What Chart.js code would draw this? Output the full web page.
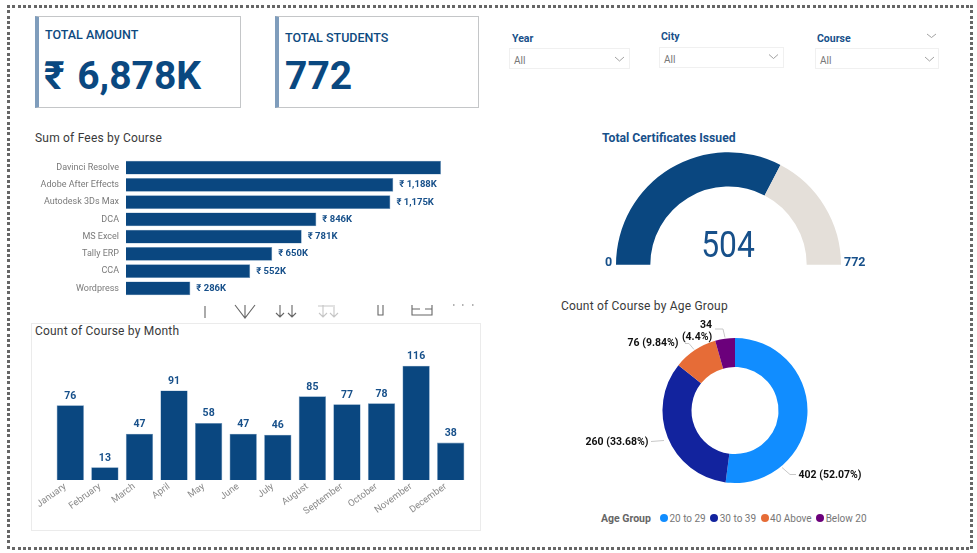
<!DOCTYPE html>
<html>
<head>
<meta charset="utf-8">
<title>Course dashboard</title>
<script src="https://cdn.jsdelivr.net/npm/chart.js@4"></script>
<style>
  html, body { margin: 0; padding: 0; background: #fff; }
  body { width: 977px; height: 553px; position: relative; overflow: hidden; font-family: Roboto, "Noto Sans", sans-serif; }
  .abs { position: absolute; white-space: nowrap; }
  canvas { position: absolute; }
  .edge { position: absolute; background-color: #6e6e6e; }
  .edge.h { height: 3px; left: 7px; width: 965px; background: repeating-linear-gradient(90deg, #666 0 3px, #fff 3px 5.3px); }
  .edge.v { width: 3px; top: 5px; height: 545px; background: repeating-linear-gradient(180deg, #666 0 3px, #fff 3px 5.3px); }
  .card { position: absolute; box-sizing: border-box; background: #fff; border: 1px solid #c4c6c8; border-left: 4px solid #7f9dbc; }
  .cardTitle { color: #0d4a80; font-weight: 500; font-size: 12.5px; }
  .cardValue { color: #0a4880; font-weight: 700; font-size: 39px; word-spacing: 3px; }
  .slicerName { color: #17508a; font-weight: 700; font-size: 10.5px; }
  .slicer { position: absolute; box-sizing: border-box; border: 1px solid #f0f0f0; color: #777; font-size: 10px; padding: 6px 0 0 4px; height: 21px; }
  .title { color: #3a3a3a; font-size: 12px; letter-spacing: 0.2px; }
  .panel { position: absolute; left: 31px; top: 323px; width: 450px; height: 208px; box-sizing: border-box; border: 1px solid #ebebeb; }
  #legend { position: absolute; left: 601px; top: 511px; height: 14px; font-size: 10px; color: #777; display: flex; align-items: center; }
  #legend b { color: #666; font-size: 10.5px; margin-right: 9px; }
  #legend i { display: inline-block; width: 8px; height: 8px; border-radius: 50%; margin-right: 1.5px; }
  #legend span { margin-right: 4.5px; }
</style>
</head>
<body>
<div class="edge h" style="top:5px"></div>
<div class="edge h" style="top:547px"></div>
<div class="edge v" style="left:7px"></div>
<div class="edge v" style="left:970px"></div>

<div class="card" style="left:35px;top:16px;width:206px;height:92px"></div>
<div class="abs cardTitle" style="left:45px;top:27px">TOTAL AMOUNT</div>
<div class="abs cardValue" style="left:44px;top:53px">₹ 6,878K</div>
<div class="card" style="left:275px;top:16px;width:204px;height:92px"></div>
<div class="abs cardTitle" style="left:285px;top:30px">TOTAL STUDENTS</div>
<div class="abs cardValue" style="left:285px;top:53px">772</div>

<div class="abs slicerName" style="left:512px;top:32px">Year</div>
<div class="slicer" style="left:509px;top:48px;width:121px">All</div>
<div class="abs slicerName" style="left:661px;top:30px">City</div>
<div class="slicer" style="left:659px;top:47px;width:125px">All</div>
<div class="abs slicerName" style="left:817px;top:32px">Course</div>
<div class="slicer" style="left:815px;top:48px;width:124px">All</div>

<div class="abs title" style="left:35px;top:131px">Sum of Fees by Course</div>
<canvas id="feesChart" style="left:30px;top:159px"></canvas>

<div class="panel"></div>
<div class="abs title" style="left:35px;top:324px">Count of Course by Month</div>
<canvas id="monthChart" style="left:32px;top:340px"></canvas>

<div class="abs" style="left:602px;top:131px;color:#17508a;font-weight:700;font-size:12.2px">Total Certificates Issued</div>
<canvas id="gaugeChart" style="left:615px;top:152px"></canvas>
<div class="abs" id="gaugeValue" style="left:728px;top:223px;transform:translateX(-50%) scaleX(0.86);color:#17508a;font-size:37px">504</div>
<div class="abs" id="gaugeMin" style="left:605px;top:254px;color:#17508a;font-weight:700;font-size:12.5px">0</div>
<div class="abs" id="gaugeMax" style="left:844px;top:254px;color:#17508a;font-weight:700;font-size:12.5px">772</div>

<div class="abs title" style="left:561px;top:299px">Count of Course by Age Group</div>
<canvas id="ageChart" style="left:575px;top:320px"></canvas>
<div id="legend"></div>

<!-- chevrons and the clipped toolbar icons that sit over the report -->
<svg class="abs" style="left:0;top:0" width="977" height="553" fill="none" stroke="#8a8a8a" stroke-width="0.8">
  <path d="M615 57l4.500 4 4.500-4M769 54.500l4.500 4 4.500-4M925 57l4.500 4 4.500-4M927 34l4.500 3.500 4.500-3.500"/>
  <g stroke="#666" stroke-width="1.100">
    <path d="M205 306v12M235 305l10 13 10-13M245 305v13"/>
    <path d="M280 305v12M276 313l4 4 4-4M292 305v12M288 313l4 4 4-4"/>
    <path d="M378 305v10h5v-10M412 305v10h20v-10M412 309h8M425 309h7"/>
    <path d="M453 305h1.500M462 305h1.500M472 305h1.500"/>
  </g>
  <g stroke="#c6c6c6" stroke-width="1.100">
    <path d="M323 305v12M319 313l4 4 4-4M334 307v10M330 313l4 4 4-4M318 306h17"/>
  </g>
</svg>

<script>
// chart values
const courses = ['Davinci Resolve', 'Adobe After Effects', 'Autodesk 3Ds Max', 'DCA', 'MS Excel', 'Tally ERP', 'CCA', 'Wordpress'];
const feesK = [1400, 1188, 1175, 846, 781, 650, 552, 286];
const months = ['January', 'February', 'March', 'April', 'May', 'June', 'July', 'August', 'September', 'October', 'November', 'December'];
const monthCounts = [76, 13, 47, 91, 58, 47, 46, 85, 77, 78, 116, 38];
const ageGroups = ['20 to 29', '30 to 39', '40 Above', 'Below 20'];
const ageCounts = [402, 260, 76, 34];
const ageColors = ['#118DFF', '#12239E', '#E66C37', '#6B007B'];
const gaugeIssued = 504;
const gaugeTotal = 772;

const NAVY = '#0A4780';
const EDGE = '#6f97bd';

Chart.defaults.animation = false;
Chart.defaults.responsive = false;
Chart.defaults.font.family = 'Roboto, "Noto Sans", sans-serif';

function sizeCanvas(id, w, h) {
    const canvas = document.getElementById(id);
    canvas.width = w;
    canvas.height = h;
    canvas.style.width = w + 'px';
    canvas.style.height = h + 'px';
    return canvas;
}

// data labels just outside the bar ends
const feeLabels = {
    id: 'feeLabels',
    afterDatasetsDraw(chart) {
        const ctx = chart.ctx;
        ctx.save();
        ctx.font = '700 9.5px Roboto, "Noto Sans", sans-serif';
        ctx.fillStyle = '#17508a';
        ctx.textBaseline = 'middle';
        chart.getDatasetMeta(0).data.forEach((bar, i) => {
            // the longest bar has no room for its label in the report
            if (feesK[i] === Math.max(...feesK)) return;
            ctx.fillText('₹ ' + feesK[i].toLocaleString('en-US') + 'K', bar.x + 6, bar.y);
        });
        ctx.restore();
    }
};

const monthLabels = {
    id: 'monthLabels',
    afterDatasetsDraw(chart) {
        const ctx = chart.ctx;
        ctx.save();
        ctx.font = '700 10.5px Roboto, "Noto Sans", sans-serif';
        ctx.fillStyle = '#17508a';
        ctx.textAlign = 'center';
        ctx.textBaseline = 'bottom';
        chart.getDatasetMeta(0).data.forEach((bar, i) => {
            ctx.fillText(monthCounts[i], bar.x, bar.y - 4);
        });
        ctx.restore();
    }
};

// outside labels with leader lines, offsets are from the ring centre
const ageCallouts = [
    { lines: [[95, 64.500]], path: [[47, 57], [55, 64], [61, 64]] },
    { lines: [[-118, 32]], path: [[-71, 30], [-84, 31]] },
    { lines: [[-82, -67]], path: [[-41, -61], [-46, -67], [-50, -67]] },
    { lines: [[-29, -85], [-38, -73]], path: [[-10, -73], [-12, -81.500], [-20, -81.500]] }
];

const ageLabels = {
    id: 'ageLabels',
    afterDatasetsDraw(chart) {
        const ctx = chart.ctx;
        const arc = chart.getDatasetMeta(0).data[0];
        const total = ageCounts.reduce((a, b) => a + b, 0);
        ctx.save();
        ctx.font = '700 10.5px Roboto, "Noto Sans", sans-serif';
        ctx.fillStyle = '#111';
        ctx.strokeStyle = '#c8c8c8';
        ctx.lineWidth = 1;
        ctx.textAlign = 'center';
        ctx.textBaseline = 'middle';
        ageCallouts.forEach((c, i) => {
            const pct = Number((ageCounts[i] / total * 100).toFixed(2));
            const texts = c.lines.length > 1
                ? [String(ageCounts[i]), '(' + pct + '%)']
                : [ageCounts[i] + ' (' + pct + '%)'];
            ctx.beginPath();
            c.path.forEach((p, j) => {
                if (j === 0) ctx.moveTo(arc.x + p[0], arc.y + p[1]);
                else ctx.lineTo(arc.x + p[0], arc.y + p[1]);
            });
            ctx.stroke();
            texts.forEach((t, j) => ctx.fillText(t, arc.x + c.lines[j][0], arc.y + c.lines[j][1]));
        });
        ctx.restore();
    }
};

// Sum of Fees by Course
new Chart(sizeCanvas('feesChart', 460, 138), {
    type: 'bar',
    data: {
        labels: courses,
        datasets: [{
            data: feesK,
            backgroundColor: NAVY,
            borderColor: EDGE,
            borderWidth: 0.6,
            categoryPercentage: 1,
            barPercentage: 0.8
        }]
    },
    options: {
        indexAxis: 'y',
        layout: { padding: { right: 49 } },
        plugins: { legend: { display: false }, tooltip: { enabled: false } },
        scales: {
            x: { display: false, min: 0, max: 1400 },
            y: {
                afterFit(axis) {
                    axis.width = 96;
                    axis.paddingTop = 0;
                    axis.paddingBottom = 0;
                },
                border: { display: false },
                grid: { display: false, drawTicks: false },
                ticks: { color: '#7a7a7a', font: { size: 9 }, padding: 7 }
            }
        }
    },
    plugins: [feeLabels]
});

// Count of Course by Month
new Chart(sizeCanvas('monthChart', 440, 190), {
    type: 'bar',
    data: {
        labels: months,
        datasets: [{
            data: monthCounts,
            backgroundColor: NAVY,
            borderColor: EDGE,
            borderWidth: 0.6,
            categoryPercentage: 1,
            barPercentage: 0.79
        }]
    },
    options: {
        layout: { padding: { left: 21, right: 4, top: 10 } },
        plugins: { legend: { display: false }, tooltip: { enabled: false } },
        scales: {
            y: { display: false, min: 0, max: 132 },
            x: {
                afterFit(axis) { axis.height = 50; },
                border: { display: false },
                grid: { display: false },
                ticks: { color: '#8a8a8a', font: { size: 9.5 }, minRotation: 36, maxRotation: 36, padding: -7, labelOffset: -5, autoSkip: false }
            }
        }
    },
    plugins: [monthLabels]
});

// Total Certificates Issued
new Chart(sizeCanvas('gaugeChart', 227, 113), {
    type: 'doughnut',
    data: {
        labels: ['Issued', 'Remaining'],
        datasets: [{
            data: [gaugeIssued, gaugeTotal - gaugeIssued],
            backgroundColor: [NAVY, '#E4DFD9'],
            borderWidth: 0
        }]
    },
    options: {
        rotation: -90,
        circumference: 180,
        radius: 112.500,
        cutout: '69.500%',
        plugins: { legend: { display: false }, tooltip: { enabled: false } }
    }
});

// Count of Course by Age Group
new Chart(sizeCanvas('ageChart', 320, 181), {
    type: 'doughnut',
    data: {
        labels: ageGroups,
        datasets: [{ data: ageCounts, backgroundColor: ageColors, borderWidth: 0 }]
    },
    options: {
        radius: 72.500,
        cutout: '60%',
        plugins: { legend: { display: false }, tooltip: { enabled: false } }
    },
    plugins: [ageLabels]
});

// legend under the ring
const legend = document.getElementById('legend');
legend.innerHTML = '<b>Age Group</b>' + ageGroups.map((g, i) =>
    '<i style="background:' + ageColors[i] + '"></i><span>' + g + '</span>').join('');
</script>
</body>
</html>
